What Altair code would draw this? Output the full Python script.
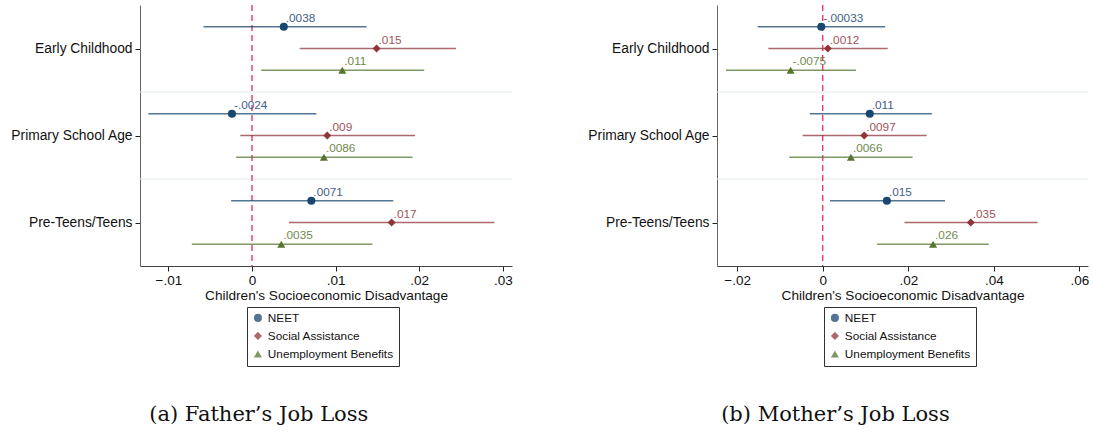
import altair as alt
import pandas as pd

groups = ["Early Childhood", "Primary School Age", "Pre-Teens/Teens"]
series = ["NEET", "Social Assistance", "Unemployment Benefits"]
colors = ["#1a476f", "#90353b", "#55752f"]
shapes = ["circle", "diamond", "triangle-up"]

# group-major order: (EC: NEET, SA, UB), (PSA: ...), (PT: ...)
f_est = [0.0038, 0.0149, 0.0108, -0.0024, 0.0090, 0.0086, 0.0071, 0.0167, 0.0035]
f_lo = [-0.0058, 0.0057, 0.0011, -0.0124, -0.0014, -0.0019, -0.0025, 0.0044, -0.0072]
f_hi = [0.0137, 0.0244, 0.0206, 0.0077, 0.0195, 0.0192, 0.0169, 0.0290, 0.0144]
f_lab = [".0038", ".015", ".011", "-.0024", ".009", ".0086", ".0071", ".017", ".0035"]

m_est = [-0.00033, 0.0012, -0.0075, 0.0110, 0.0097, 0.0066, 0.0150, 0.0346, 0.0258]
m_lo = [-0.0152, -0.0127, -0.0226, -0.0030, -0.0047, -0.0078, 0.0017, 0.0191, 0.0127]
m_hi = [0.0146, 0.0152, 0.0078, 0.0255, 0.0243, 0.0210, 0.0286, 0.0502, 0.0388]
m_lab = ["-.00033", ".0012", "-.0075", ".011", ".0097", ".0066", ".015", ".035", ".026"]

f_ticks = [-0.01, 0, 0.01, 0.02, 0.03]
m_ticks = [-0.02, 0, 0.02, 0.04, 0.06]
f_domain = [-0.0134, 0.0311]
m_domain = [-0.0247, 0.0620]

FONT = "Liberation Sans"


def make_df(est, lo, hi, lab):
    rows = []
    for gi, g in enumerate(groups):
        for si, s in enumerate(series):
            k = gi * 3 + si
            rows.append({"group": g, "series": s, "col": colors[si],
                         "pos": gi + 0.25 * (si + 1),
                         "est": est[k], "lo": lo[k], "hi": hi[k], "lab": lab[k]})
    return pd.DataFrame(rows)


def panel(df, domain, ticks, width, caption):
    xscale = alt.Scale(domain=domain, nice=False, zero=False)
    yscale = alt.Scale(domain=[0, 3], reverse=True, nice=False, zero=False)
    cscale = alt.Scale(domain=series, range=colors)
    sscale = alt.Scale(domain=series, range=shapes)
    label_expr = ("datum.value < 1 ? '%s' : datum.value < 2 ? '%s' : '%s'" % tuple(groups))
    xaxis = alt.Axis(values=ticks, title="Children's Socioeconomic Disadvantage",
                     labelExpr="replace(format(datum.value, ''), '0.', '.')", grid=False)
    yaxis = alt.Axis(values=[0.5, 1.5, 2.5], labelExpr=label_expr, title=None, grid=False)

    sep = alt.Chart(pd.DataFrame({"b": [1, 2]})).mark_rule(
        color="#e3eaec", strokeWidth=1
    ).encode(y=alt.Y("b:Q", scale=yscale, axis=yaxis))

    zero = alt.Chart(pd.DataFrame({"z": [0]})).mark_rule(
        color="#e8386b", strokeDash=[6, 4], strokeWidth=1.4
    ).encode(x=alt.X("z:Q", scale=xscale, axis=xaxis))

    base = alt.Chart(df)
    ci = base.mark_rule(strokeWidth=1.5, opacity=0.75).encode(
        x=alt.X("lo:Q", scale=xscale, axis=xaxis),
        x2="hi:Q",
        y=alt.Y("pos:Q", scale=yscale, axis=yaxis),
        color=alt.Color("col:N", scale=None),
    )
    leg = alt.Legend(title=None, orient="none", legendX=107, legendY=302, direction="vertical",
                     symbolOpacity=1)
    pts = base.mark_point(filled=True, opacity=1, size=65).encode(
        x=alt.X("est:Q", scale=xscale, axis=xaxis),
        y=alt.Y("pos:Q", scale=yscale, axis=yaxis),
        color=alt.Color("series:N", scale=cscale, legend=leg),
        shape=alt.Shape("series:N", scale=sscale, legend=leg),
    )
    txt = base.mark_text(align="left", dx=2, dy=-9, fontSize=11.8, font=FONT, opacity=0.85).encode(
        x=alt.X("est:Q", scale=xscale, axis=xaxis),
        y=alt.Y("pos:Q", scale=yscale, axis=yaxis),
        text="lab:N",
        color=alt.Color("col:N", scale=None),
    )
    return alt.layer(sep, zero, ci, pts, txt).properties(
        width=width, height=261,
        title=alt.TitleParams(text=caption, orient="bottom", anchor="middle", frame="bounds",
                              font="DejaVu Serif", fontSize=21, fontWeight="normal",
                              color="#111", offset=37),
    )


left = panel(make_df(f_est, f_lo, f_hi, f_lab), f_domain, f_ticks, 372, "(a) Father\u2019s Job Loss")
right = panel(make_df(m_est, m_lo, m_hi, m_lab), m_domain, m_ticks, 371, "(b) Mother\u2019s Job Loss")

chart = alt.hconcat(left, right, spacing=69).resolve_scale(
    color="independent", shape="independent"
).resolve_legend(
    color="independent", shape="independent"
).properties(
    padding={"left": 5, "top": 4, "right": 0, "bottom": 0},
    background="white",
).configure_view(stroke=None).configure_axis(
    labelFont=FONT, titleFont=FONT, labelFontSize=13.5, titleFontSize=13.6,
    titleFontWeight="normal", labelColor="#111", titleColor="#111",
    domainColor="#444", tickColor="#222", tickSize=5,
).configure_axisY(
    minExtent=135, maxExtent=135, labelPadding=3, labelFontSize=13.8, domainColor="#666",
).configure_axisX(
    labelPadding=2, titlePadding=2,
).configure_legend(
    labelFont=FONT, labelFontSize=11.8, labelColor="#111", symbolSize=65,
    strokeColor="#333", padding=5, rowPadding=5, symbolStrokeWidth=0,
    cornerRadius=0, fillColor="white",
)

chart.save("out.html", embed_options={"renderer": "svg", "actions": False})
